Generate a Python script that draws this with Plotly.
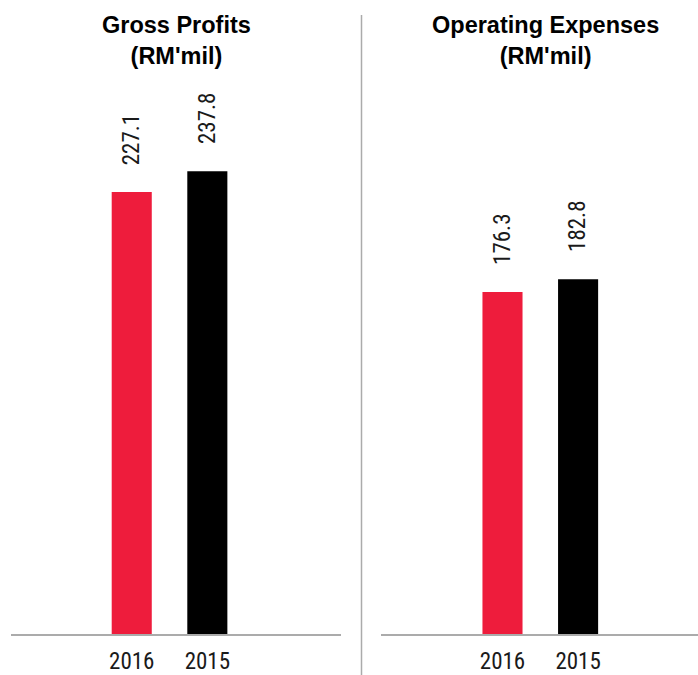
import plotly.graph_objects as go
from plotly.subplots import make_subplots

years = ["2016", "2015"]
gross_profits = [227.1, 237.8]
operating_expenses = [176.3, 182.8]
bar_colors = ["#EE1C3C", "#000000"]
titles = ["<b>Gross Profits</b><br><b>(RM'mil)</b>", "<b>Operating Expenses</b><br><b>(RM'mil)</b>"]

W, H = 698, 675
plot_h = 634


def px_x(x):
    return x / W


def px_y(y):
    return (plot_h - y) / plot_h


fig = make_subplots(rows=1, cols=2)

label_font = dict(family="Liberation Sans Narrow, Arial Narrow, Roboto Condensed, DejaVu Sans Condensed, sans-serif",
                  size=23, color="#1a1a1a")

for i, vals in enumerate([gross_profits, operating_expenses]):
    col = i + 1
    fig.add_trace(go.Bar(x=years, y=vals, marker=dict(color=bar_colors, line=dict(width=0)),
                         width=0.53, showlegend=False, hoverinfo="x+y"), row=1, col=col)
    xref = "x" if col == 1 else "x2"
    yref = "y" if col == 1 else "y2"
    for k, v in enumerate(vals):
        fig.add_annotation(x=k, y=v, xref=xref, yref=yref, text=f"{v:.1f}", textangle=-90,
                           showarrow=False, yanchor="bottom", xanchor="center", yshift=25,
                           font=label_font)

fig.update_layout(
    width=W, height=H,
    margin=dict(l=0, r=0, t=0, b=H - plot_h, pad=0, autoexpand=False),
    paper_bgcolor="white", plot_bgcolor="white",
    xaxis=dict(domain=[px_x(11), px_x(341)], range=[-1.597, 2.768]),
    xaxis2=dict(domain=[px_x(381), 1.0], range=[-1.607, 2.586]),
    yaxis=dict(range=[0, plot_h / 1.946]),
    yaxis2=dict(range=[0, plot_h / 1.94]),
)
for ax in ["xaxis", "xaxis2"]:
    fig.layout[ax].update(showline=True, linecolor="#ababab", linewidth=1.5, showgrid=False,
                          zeroline=False, ticks="outside", ticklen=6, tickcolor="rgba(0,0,0,0)",
                          tickfont=label_font, type="category", fixedrange=True, automargin=False)
for ax in ["yaxis", "yaxis2"]:
    fig.layout[ax].update(visible=False, showgrid=False, zeroline=False, fixedrange=True,
                          automargin=False)

# titles
for t, cx in zip(titles, [176, 545]):
    fig.add_annotation(x=px_x(cx), y=px_y(40), xref="paper", yref="paper", text=t,
                       showarrow=False, xanchor="center", yanchor="middle",
                       font=dict(family="Liberation Sans, Arial, sans-serif", size=23.5, color="#000000"))

# divider
fig.add_shape(type="line", xref="paper", yref="paper", x0=px_x(361.5), x1=px_x(361.5),
              y0=px_y(15), y1=px_y(675),
              line=dict(color="#ababab", width=1.5))

fig.write_html("out.html", config={"displayModeBar": False},
               post_script="document.body.style.margin='0';document.body.style.overflow='hidden';")
